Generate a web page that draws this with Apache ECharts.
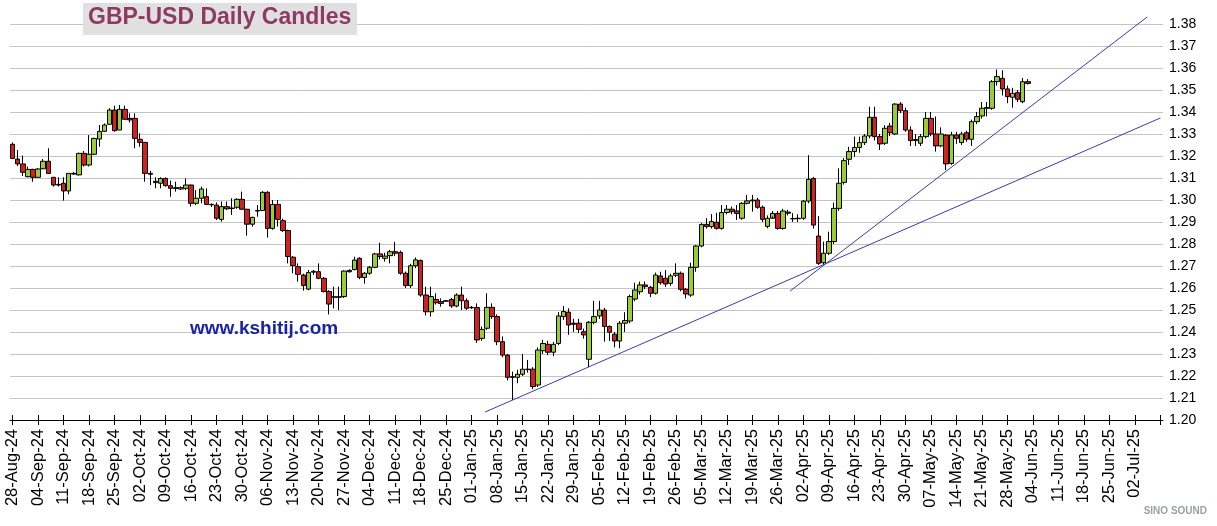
<!DOCTYPE html>
<html><head><meta charset="utf-8">
<script src="https://cdn.jsdelivr.net/npm/echarts@6/dist/echarts.min.js"></script>
<style>html,body{margin:0;padding:0;background:#fff}#c{width:1217px;height:526px}</style>
</head><body><div id="c"></div>
<script>
const tickLabels = ['28-Aug-24','04-Sep-24','11-Sep-24','18-Sep-24','25-Sep-24','02-Oct-24','09-Oct-24','16-Oct-24','23-Oct-24','30-Oct-24','06-Nov-24','13-Nov-24','20-Nov-24','27-Nov-24','04-Dec-24','11-Dec-24','18-Dec-24','25-Dec-24','01-Jan-25','08-Jan-25','15-Jan-25','22-Jan-25','29-Jan-25','05-Feb-25','12-Feb-25','19-Feb-25','26-Feb-25','05-Mar-25','12-Mar-25','19-Mar-25','26-Mar-25','02-Apr-25','09-Apr-25','16-Apr-25','23-Apr-25','30-Apr-25','07-May-25','14-May-25','21-May-25','28-May-25','04-Jun-25','11-Jun-25','18-Jun-25','25-Jun-25','02-Jul-25'];
const yTicks = [1.20,1.21,1.22,1.23,1.24,1.25,1.26,1.27,1.28,1.29,1.30,1.31,1.32,1.33,1.34,1.35,1.36,1.37,1.38];

const opens = [1.3253,1.3186,1.3164,1.3106,1.3139,1.3103,1.3142,1.3176,1.3103,1.3071,1.3076,1.3041,1.3121,1.3114,1.3212,1.3159,1.3208,1.3277,1.3312,1.3344,
1.3409,1.3318,1.3412,1.3371,1.3371,1.3276,1.3262,1.3121,1.3085,1.3076,1.3098,1.3065,1.3056,1.3050,1.3053,1.3068,1.2985,1.3008,1.3015,1.2980,
1.2977,1.2912,1.2970,1.2962,1.2967,1.3003,1.2958,1.2890,1.2952,1.2952,1.3035,1.2871,1.2980,1.2906,1.2861,1.2740,1.2697,1.2659,1.2595,1.2672,
1.2674,1.2644,1.2584,1.2560,1.2560,1.2561,1.2680,1.2684,1.2735,1.2648,1.2667,1.2694,1.2755,1.2735,1.2747,1.2765,1.2762,1.2667,1.2611,1.2701,
1.2725,1.2568,1.2492,1.2548,1.2538,1.2542,1.2548,1.2518,1.2568,1.2542,1.2512,1.2511,1.2371,1.2417,1.2512,1.2470,1.2356,1.2295,1.2194,1.2194,
1.2208,1.2231,1.2231,1.2159,1.2315,1.2344,1.2308,1.2348,1.2470,1.2490,1.2440,1.2440,1.2401,1.2276,1.2444,1.2473,1.2500,1.2425,1.2390,1.2359,
1.2440,1.2450,1.2550,1.2583,1.2614,1.2603,1.2576,1.2655,1.2644,1.2621,1.2658,1.2667,1.2594,1.2568,1.2694,1.2791,1.2889,1.2879,1.2899,1.2871,
1.2943,1.2958,1.2950,1.2917,1.2985,1.2996,1.3000,1.2967,1.2880,1.2917,1.2939,1.2871,1.2945,1.2915,1.2915,1.2917,1.2995,1.3098,1.2836,1.2715,
1.2758,1.2811,1.2962,1.3080,1.3185,1.3220,1.3239,1.3261,1.3291,1.3376,1.3288,1.3258,1.3336,1.3300,1.3436,1.3406,1.3318,1.3270,1.3258,1.3288,
1.3371,1.3300,1.3246,1.3295,1.3166,1.3296,1.3261,1.3306,1.3276,1.3356,1.3382,1.3417,1.3417,1.3538,1.3553,1.3505,1.3467,1.3488,1.3447,1.3538];
const closes = [1.3189,1.3164,1.3126,1.3139,1.3103,1.3141,1.3176,1.3121,1.3068,1.3068,1.3041,1.3121,1.3118,1.3212,1.3159,1.3208,1.3280,1.3312,1.3341,1.3409,
1.3315,1.3412,1.3367,1.3364,1.3280,1.3262,1.3121,1.3117,1.3079,1.3098,1.3065,1.3053,1.3052,1.3056,1.3068,1.2985,1.3008,1.3050,1.2980,1.2978,
1.2917,1.2970,1.2960,1.2963,1.3003,1.2958,1.2890,1.2921,1.2950,1.3035,1.2871,1.2980,1.2912,1.2861,1.2743,1.2702,1.2662,1.2611,1.2670,1.2676,
1.2644,1.2584,1.2527,1.2558,1.2558,1.2677,1.2674,1.2727,1.2648,1.2667,1.2694,1.2755,1.2743,1.2745,1.2765,1.2758,1.2667,1.2611,1.2701,1.2728,
1.2568,1.2492,1.2561,1.2533,1.2530,1.2540,1.2518,1.2568,1.2542,1.2508,1.2510,1.2364,1.2412,1.2512,1.2470,1.2356,1.2295,1.2194,1.2197,1.2208,
1.2231,1.2229,1.2152,1.2318,1.2348,1.2308,1.2344,1.2473,1.2493,1.2432,1.2435,1.2412,1.2387,1.2444,1.2470,1.2500,1.2425,1.2399,1.2359,1.2440,
1.2452,1.2561,1.2591,1.2614,1.2606,1.2576,1.2659,1.2624,1.2618,1.2655,1.2667,1.2594,1.2573,1.2694,1.2791,1.2889,1.2879,1.2902,1.2871,1.2943,
1.2958,1.2947,1.2939,1.2985,1.2996,1.3000,1.2967,1.2912,1.2917,1.2939,1.2871,1.2950,1.2940,1.2915,1.2917,1.2995,1.3094,1.2886,1.2712,1.2758,
1.2811,1.2962,1.3076,1.3179,1.3220,1.3239,1.3261,1.3291,1.3376,1.3288,1.3255,1.3326,1.3306,1.3436,1.3406,1.3318,1.3270,1.3275,1.3288,1.3371,
1.3300,1.3246,1.3300,1.3164,1.3296,1.3280,1.3300,1.3276,1.3356,1.3379,1.3417,1.3420,1.3538,1.3561,1.3505,1.3470,1.3485,1.3458,1.3538,1.3530];
const lows = [1.3186,1.3155,1.3109,1.3103,1.3083,1.3100,1.3140,1.3118,1.3061,1.3061,1.2997,1.3026,1.3115,1.3112,1.3152,1.3152,1.3205,1.3242,1.3309,1.3342,
1.3311,1.3318,1.3365,1.3352,1.3235,1.3242,1.3083,1.3068,1.3053,1.3053,1.3061,1.3015,1.3038,1.3045,1.3045,1.2970,1.2977,1.2985,1.2977,1.2968,
1.2909,1.2902,1.2955,1.2932,1.2960,1.2955,1.2838,1.2879,1.2924,1.2950,1.2829,1.2865,1.2879,1.2855,1.2712,1.2667,1.2629,1.2588,1.2590,1.2660,
1.2640,1.2580,1.2480,1.2507,1.2500,1.2555,1.2670,1.2680,1.2640,1.2620,1.2660,1.2690,1.2730,1.2720,1.2712,1.2745,1.2660,1.2600,1.2600,1.2690,
1.2560,1.2475,1.2470,1.2525,1.2515,1.2538,1.2510,1.2512,1.2500,1.2500,1.2505,1.2350,1.2360,1.2410,1.2460,1.2340,1.2285,1.2180,1.2091,1.2167,
1.2200,1.2215,1.2140,1.2150,1.2300,1.2295,1.2290,1.2340,1.2455,1.2387,1.2400,1.2395,1.2370,1.2240,1.2435,1.2460,1.2356,1.2360,1.2330,1.2326,
1.2400,1.2440,1.2540,1.2570,1.2595,1.2558,1.2570,1.2615,1.2605,1.2610,1.2650,1.2585,1.2553,1.2560,1.2674,1.2785,1.2870,1.2870,1.2865,1.2865,
1.2935,1.2935,1.2909,1.2910,1.2980,1.2947,1.2960,1.2900,1.2871,1.2925,1.2865,1.2865,1.2930,1.2900,1.2900,1.2910,1.2985,1.2870,1.2705,1.2705,
1.2750,1.2800,1.2950,1.3070,1.3159,1.3197,1.3215,1.3250,1.3280,1.3270,1.3227,1.3250,1.3290,1.3295,1.3395,1.3310,1.3245,1.3245,1.3245,1.3280,
1.3290,1.3220,1.3240,1.3136,1.3160,1.3255,1.3250,1.3265,1.3246,1.3345,1.3370,1.3380,1.3410,1.3520,1.3475,1.3440,1.3420,1.3445,1.3440,1.3525];
const highs = [1.3262,1.3227,1.3202,1.3152,1.3142,1.3145,1.3186,1.3235,1.3105,1.3103,1.3103,1.3121,1.3127,1.3215,1.3223,1.3295,1.3283,1.3341,1.3348,1.3417,
1.3429,1.3432,1.3429,1.3394,1.3394,1.3303,1.3262,1.3132,1.3103,1.3103,1.3103,1.3088,1.3083,1.3062,1.3098,1.3070,1.3045,1.3061,1.3053,1.2985,
1.2989,1.2993,1.2993,1.3008,1.3008,1.3038,1.2960,1.2924,1.2977,1.3040,1.3040,1.3000,1.3000,1.2915,1.2865,1.2745,1.2712,1.2665,1.2682,1.2682,
1.2712,1.2650,1.2590,1.2606,1.2606,1.2680,1.2685,1.2742,1.2740,1.2672,1.2700,1.2760,1.2806,1.2760,1.2773,1.2810,1.2770,1.2675,1.2710,1.2739,
1.2730,1.2606,1.2606,1.2576,1.2553,1.2545,1.2555,1.2576,1.2606,1.2553,1.2518,1.2530,1.2425,1.2576,1.2530,1.2480,1.2380,1.2300,1.2220,1.2228,
1.2300,1.2273,1.2240,1.2330,1.2365,1.2360,1.2355,1.2490,1.2518,1.2508,1.2460,1.2460,1.2415,1.2450,1.2542,1.2542,1.2510,1.2430,1.2400,1.2450,
1.2490,1.2570,1.2624,1.2629,1.2630,1.2610,1.2670,1.2674,1.2682,1.2665,1.2712,1.2675,1.2600,1.2715,1.2795,1.2895,1.2917,1.2936,1.2942,1.2977,
1.2977,1.2970,1.2977,1.2990,1.3023,1.3023,1.3010,1.2975,1.2930,1.2950,1.2950,1.2960,1.2955,1.2940,1.2935,1.3000,1.3204,1.3105,1.2927,1.2811,
1.2856,1.2988,1.3144,1.3190,1.3242,1.3288,1.3288,1.3300,1.3424,1.3424,1.3300,1.3340,1.3350,1.3440,1.3445,1.3420,1.3335,1.3300,1.3300,1.3400,
1.3400,1.3380,1.3330,1.3300,1.3310,1.3310,1.3310,1.3315,1.3365,1.3400,1.3445,1.3445,1.3545,1.3593,1.3590,1.3520,1.3510,1.3500,1.3555,1.3550];

const trendLower = [[92.6, 1.2036], [225.0, 1.3373]];
const trendUpper = [[152.4, 1.2586], [222.4, 1.3832]];

const categories = [];
tickLabels.forEach(function (t) { categories.push(t, '', '', '', ''); });
categories.push('');

const candles = opens.map(function (o, i) { return [o, closes[i], lows[i], highs[i]]; });

const FONT = '"Liberation Sans", Arial, sans-serif';
const chart = echarts.init(document.getElementById('c'), null, {renderer: 'canvas'});
chart.setOption({
  animation: false,
  backgroundColor: '#ffffff',
  grid: {left: 10, right: 54, top: 24, bottom: 106},
  xAxis: [{
    type: 'category', data: categories, boundaryGap: true, position: 'bottom',
    axisLine: {show: true, lineStyle: {color: '#000', width: 1}},
    axisTick: {show: true, interval: 4, alignWithLabel: true, length: 5, lineStyle: {color: '#000'}},
    axisLabel: {interval: 4, rotate: 90, fontSize: 16.5, color: '#000', fontFamily: FONT, margin: 9},
    splitLine: {show: false}
  }, {
    type: 'category', data: categories, boundaryGap: true, position: 'bottom',
    axisLine: {show: false},
    axisTick: {show: true, inside: true, interval: 4, alignWithLabel: true, length: 5, lineStyle: {color: '#000'}},
    axisLabel: {show: false}, splitLine: {show: false}
  }, {
    type: 'value', min: -0.5, max: categories.length - 0.5, show: false
  }],
  yAxis: {
    type: 'value', position: 'right', min: yTicks[0], max: yTicks[yTicks.length - 1], interval: 0.01,
    axisLine: {show: false}, axisTick: {show: false},
    axisLabel: {fontSize: 14, color: '#000', fontFamily: FONT, margin: 6, formatter: function (v) { return v.toFixed(2); }},
    splitLine: {show: true, lineStyle: {color: '#c4c4c4', width: 1}}
  },
  series: [{
    type: 'candlestick', xAxisIndex: 0, data: candles, barWidth: 5,
    itemStyle: {color: '#9acd32', color0: '#d42020', borderColor: '#000', borderColor0: '#000', borderColorDoji: '#000', borderWidth: 1}
  }, {
    type: 'line', xAxisIndex: 2, data: trendLower, symbol: 'none', clip: false,
    lineStyle: {color: '#3c3ca8', width: 1}
  }, {
    type: 'line', xAxisIndex: 2, data: trendUpper, symbol: 'none', clip: false,
    lineStyle: {color: '#3c3ca8', width: 1}
  }],
  graphic: [{
    type: 'rect', left: 83, top: 3, shape: {width: 274, height: 32}, style: {fill: '#e0e0e0'}, z: 100
  }, {
    type: 'text', left: 88, top: 6, z: 101,
    style: {text: 'GBP-USD Daily Candles', fill: '#8e3a63', font: 'bold 23px "Liberation Sans", Arial, sans-serif'}
  }, {
    type: 'text', left: 190, top: 319, z: 101,
    style: {text: 'www.kshitij.com', fill: '#1a23a8', font: 'bold 19px "Liberation Sans", Arial, sans-serif'}
  }, {
    type: 'text', right: 10, bottom: 10, z: 101,
    style: {text: 'SINO SOUND', fill: '#9aa0a8', font: 'bold 10px "Liberation Sans", Arial, sans-serif'}
  }]
});
</script>
</body></html>
